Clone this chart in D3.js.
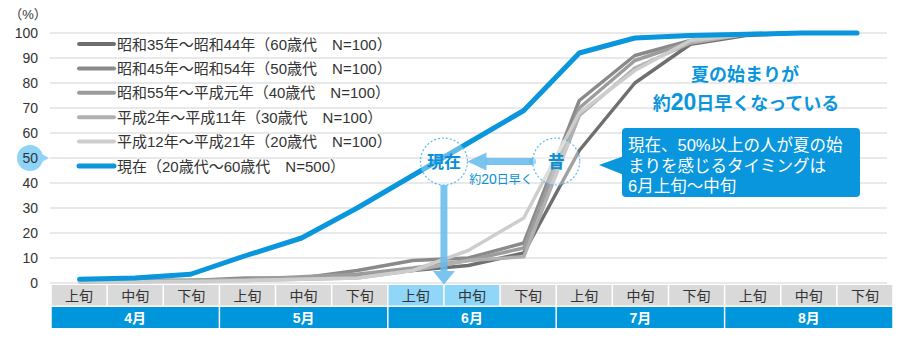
<!DOCTYPE html>
<html>
<head>
<meta charset="utf-8">
<script src="https://cdn.jsdelivr.net/npm/d3@7"></script>
<style>
  html, body { margin: 0; padding: 0; background: #fff; }
  svg { display: block; font-family: "Liberation Sans", "Noto Sans CJK JP", sans-serif; }
</style>
</head>
<body>
<svg id="chart" width="900" height="342"></svg>
<script>
// Periods (ten-day thirds of each month) and months
const periods = ["上旬","中旬","下旬","上旬","中旬","下旬","上旬","中旬","下旬","上旬","中旬","下旬","上旬","中旬","下旬"];
const months = ["4月","5月","6月","7月","8月"];
const yTicks = [0,10,20,30,40,50,60,70,80,90,100];

// Cumulative share (%) who feel summer has begun, by generation
const seriesNames = [
  "昭和35年～昭和44年（60歳代　N=100）",
  "昭和45年～昭和54年（50歳代　N=100）",
  "昭和55年～平成元年（40歳代　N=100）",
  "平成2年～平成11年（30歳代　N=100）",
  "平成12年～平成21年（20歳代　N=100）",
  "現在（20歳代～60歳代　N=500）"
];
const gen60 = [0.5, 1, 1, 1.5, 2, 3, 5, 7, 12, 53, 80, 95.5, 99, 100, 100];
const gen50 = [1, 1, 1, 2, 2, 5, 9, 10, 16, 73, 91, 97, 99.5, 100, 100];
const gen40 = [1, 1, 1, 1.5, 2.5, 3.5, 6, 9, 14, 70, 89, 96.5, 99.5, 100, 100];
const gen30 = [0.5, 0.5, 1, 1, 1.5, 2, 5, 9, 10.5, 67, 86, 96, 99.5, 100, 100];
const gen20 = [0.5, 0.5, 0.5, 1, 1.5, 2, 5, 13, 26, 68, 85, 97, 99.5, 100, 100];
const current = [1.5, 2, 3.5, 11, 18, 30, 43, 56, 69, 92, 98, 99, 99.5, 100, 100];

const seriesValues = [gen60, gen50, gen40, gen30, gen20, current];
const seriesColors = ["#6f6f6f", "#8a8a8a", "#9c9c9c", "#b0b0b0", "#cdcdcd", "#0a96dc"];
const seriesWidths = [3.5, 3.5, 3.5, 3.5, 3.5, 5];

const svg = d3.select("#chart");
const idx = d3.range(periods.length);

// Category cells, month cells, and the data point positions
const x = d3.scaleBand().domain(idx).range([51, 893]);
const xm = d3.scaleBand().domain(months).range([51, 893]);
const xp = d3.scalePoint().domain(idx).range([79.5, 857]);
const y = d3.scaleLinear().domain([0, 100]).range([283, 33]);
const cx = i => x(i) + x.bandwidth() / 2;

// Gridlines
svg.append("g")
  .selectAll("line").data(yTicks).join("line")
  .attr("x1", 50).attr("x2", 887)
  .attr("y1", d => y(d)).attr("y2", d => y(d))
  .attr("stroke", "#e2e2e2").attr("stroke-width", 1.6);

// Highlight marker for 50%
const m50 = svg.append("g");
m50.append("path")
  .attr("d", `M40,${y(50)-5} L49,${y(50)} L40,${y(50)+5} Z`)
  .attr("fill", "#8dd4f8");
m50.append("circle").attr("cx", 30).attr("cy", y(50)).attr("r", 13).attr("fill", "#8dd4f8");

// Y axis labels
const yAxis = svg.append("g")
  .attr("transform", "translate(38,0)")
  .call(d3.axisLeft(y).tickValues(yTicks).tickSize(0).tickPadding(0));
yAxis.select(".domain").remove();
yAxis.selectAll("text")
  .attr("font-size", 14).attr("fill", "#333")
  .attr("font-family", "Liberation Sans, sans-serif");

svg.append("text").attr("x", 28).attr("y", 19)
  .attr("text-anchor", "middle").attr("font-size", 13).attr("fill", "#333")
  .text("（%）");

// Lines
const line = d3.line().x((d, i) => xp(i)).y(d => y(d));
svg.append("g")
  .selectAll("path").data(seriesValues).join("path")
  .attr("d", d => line(d))
  .attr("fill", "none")
  .attr("stroke", (d, i) => seriesColors[i])
  .attr("stroke-width", (d, i) => seriesWidths[i])
  .attr("stroke-linejoin", "round")
  .attr("stroke-linecap", "round");

// Legend
const legend = svg.append("g");
seriesNames.forEach((name, i) => {
  const ly = 44 + i * 24.4;
  legend.append("line")
    .attr("x1", 79).attr("x2", 114).attr("y1", ly).attr("y2", ly)
    .attr("stroke", seriesColors[i]).attr("stroke-width", i === 5 ? 5 : 4)
    .attr("stroke-linecap", "round");
  legend.append("text")
    .attr("x", 117).attr("y", ly + 5.5)
    .attr("font-size", 15).attr("fill", "#333")
    .text(name);
});

// Period row
const hl = new Set([6, 7]);
const pr = svg.append("g");
pr.selectAll("rect").data(idx).join("rect")
  .attr("x", i => x(i) + 0.75).attr("y", 285)
  .attr("width", x.bandwidth() - 1.5).attr("height", 20.5)
  .attr("fill", i => hl.has(i) ? "#8fd6f8" : "#d9d9d9");
pr.selectAll("text").data(idx).join("text")
  .attr("x", i => cx(i)).attr("y", 300.5)
  .attr("text-anchor", "middle").attr("font-size", 14).attr("fill", "#333")
  .text(i => periods[i]);

// Month row
const mr = svg.append("g");
mr.selectAll("rect").data(months).join("rect")
  .attr("x", d => xm(d) + 0.75).attr("y", 307)
  .attr("width", xm.bandwidth() - 1.5).attr("height", 21)
  .attr("fill", "#0096dc");
mr.selectAll("text").data(months).join("text")
  .attr("x", d => xm(d) + xm.bandwidth() / 2).attr("y", 322.5)
  .attr("text-anchor", "middle").attr("font-size", 14)
  .attr("font-weight", "bold").attr("fill", "#fff")
  .text(d => d);

// Annotations: "now" vs "before" around the 50% crossing
const ann = svg.append("g");
const nowX = x(7), thenX = x(9), annY = y(50) + 3.5, r = 23.5;
const arrowFill = "rgba(100,186,236,0.85)";

// vertical arrow down to the axis
ann.append("rect")
  .attr("x", nowX - 3.5).attr("y", annY + r).attr("width", 7).attr("height", y(0) - 12 - annY - r)
  .attr("fill", arrowFill);
ann.append("path")
  .attr("d", `M${nowX-11},${y(0)-12} L${nowX+11},${y(0)-12} L${nowX},${y(0)+1.5} Z`)
  .attr("fill", arrowFill);

// horizontal arrow pointing left
ann.append("rect")
  .attr("x", nowX + r + 18).attr("y", annY - 3.5)
  .attr("width", thenX - r - (nowX + r + 18)).attr("height", 7)
  .attr("fill", arrowFill);
ann.append("circle").attr("cx", thenX - r).attr("cy", annY).attr("r", 3.5).attr("fill", arrowFill);
ann.append("path")
  .attr("d", `M${nowX+r},${annY} L${nowX+r+19},${annY-9} L${nowX+r+19},${annY+9} Z`)
  .attr("fill", arrowFill);

[[nowX, "現在"], [thenX, "昔"]].forEach(([px, label]) => {
  ann.append("circle")
    .attr("cx", px).attr("cy", annY).attr("r", r)
    .attr("fill", "rgba(255,255,255,0.35)")
    .attr("stroke", "#5cb9ec").attr("stroke-width", 1.2)
    .attr("stroke-dasharray", "2,2");
  ann.append("text")
    .attr("x", px).attr("y", annY + 6.5)
    .attr("text-anchor", "middle").attr("font-size", 17).attr("font-weight", "bold")
    .attr("fill", "#0a8fd6")
    .text(label);
});

const early = ann.append("text")
  .attr("x", (nowX + thenX) / 2 + 1).attr("y", annY + 22)
  .attr("text-anchor", "middle").attr("font-size", 12).attr("fill", "#0a8fd6");
early.append("tspan").text("約");
early.append("tspan").attr("font-size", 14).text("20");
early.append("tspan").text("日早く");

// Headline
ann.append("text")
  .attr("x", 745).attr("y", 81)
  .attr("text-anchor", "middle").attr("font-size", 18).attr("font-weight", "bold")
  .attr("fill", "#0a96dc")
  .text("夏の始まりが");
const head2 = ann.append("text")
  .attr("x", 746).attr("y", 110)
  .attr("text-anchor", "middle").attr("font-size", 18).attr("font-weight", "bold")
  .attr("fill", "#0a96dc");
head2.append("tspan").text("約");
head2.append("tspan").attr("font-size", 23).text("20");
head2.append("tspan").text("日早くなっている");

// Callout box
const box = ann.append("g");
box.append("path")
  .attr("d", "M599,165 L624,156 L624,175 Z")
  .attr("fill", "#0a96dc");
box.append("rect")
  .attr("x", 622).attr("y", 128).attr("width", 238).attr("height", 69).attr("rx", 4)
  .attr("fill", "#0a96dc");
["現在、50%以上の人が夏の始", "まりを感じるタイミングは", "6月上旬～中旬"].forEach((t, i) => {
  box.append("text")
    .attr("x", 628).attr("y", 151 + i * 20.5)
    .attr("font-size", 16.5).attr("fill", "#fff")
    .text(t);
});
</script>
</body>
</html>
